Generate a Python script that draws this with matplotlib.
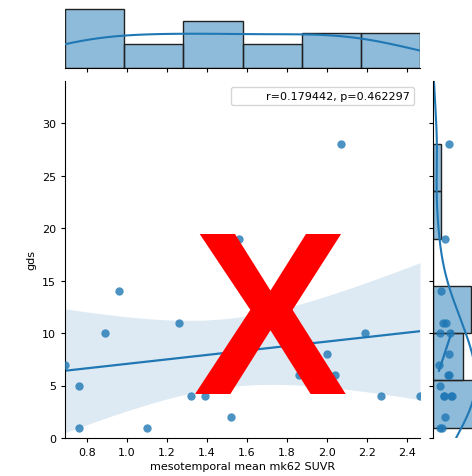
import numpy as np
import matplotlib
matplotlib.use("Agg")
import matplotlib.pyplot as plt
from matplotlib.lines import Line2D

# data
suvr = np.array([0.69, 0.76, 0.76, 0.89, 0.96, 1.10, 1.26, 1.32, 1.39, 1.52,
                 1.56, 1.70, 1.86, 2.00, 2.04, 2.07, 2.19, 2.27, 2.465])
gds = np.array([7, 5, 1, 10, 14, 1, 11, 4, 4, 2,
                19, 11, 6, 8, 6, 28, 10, 4, 4])
xticks = [0.8, 1.0, 1.2, 1.4, 1.6, 1.8, 2.0, 2.2, 2.4]
yticks = [0, 5, 10, 15, 20, 25, 30]
stat_text = "r=0.179442, p=0.462297"
xlabel = "mesotemporal mean mk62 SUVR"
ylabel = "gds"
n_bins = 6

c0 = "#1f77b4"
plt.rcParams["font.family"] = "DejaVu Sans"
plt.rcParams["font.size"] = 8

W, H = 472, 477
fig = plt.figure(figsize=(W / 100, H / 100), dpi=100)


def box(l, t, w, h):
    return [l / W, 1 - (t + h) / H, w / W, h / H]


ax = fig.add_axes(box(65, 82, 355, 357))
ax_top = fig.add_axes(box(65, -3, 355, 72))
ax_right = fig.add_axes(box(433, 82, 71, 357))


def kde(data, grid):
    bw = data.std(ddof=1) * len(data) ** (-1 / 5)
    z = (grid[:, None] - data[None, :]) / bw
    return np.exp(-0.5 * z ** 2).sum(axis=1) / (len(data) * bw * np.sqrt(2 * np.pi))


# regression + analytic 95% band
slope, icpt = np.polyfit(suvr, gds, 1)
xg = np.linspace(suvr.min(), suvr.max(), 100)
yhat = icpt + slope * xg
resid = gds - (icpt + slope * suvr)
s = np.sqrt((resid ** 2).sum() / (len(suvr) - 2))
sxx = ((suvr - suvr.mean()) ** 2).sum()
se = s * np.sqrt(1 / len(suvr) + (xg - suvr.mean()) ** 2 / sxx)
ci = 2.11 * se

ax.fill_between(xg, yhat - ci, yhat + ci, color=c0, alpha=0.15, lw=0)
ax.plot(xg, yhat, color=c0, lw=1.6)
ax.scatter(suvr, gds, s=36, color=c0, alpha=0.8, lw=0, zorder=3)
ax.set_xlim(suvr.min(), suvr.max())
ax.set_ylim(0, 34)
ax.set_xticks(xticks)
ax.set_yticks(yticks)
ax.set_xlabel(xlabel, labelpad=3)
ax.set_ylabel(ylabel)
ax.spines[["top", "right"]].set_visible(False)
ax.tick_params(length=3)
ax.legend([Line2D([], [], linewidth=0)], [stat_text], loc="upper right",
          handlelength=2, borderaxespad=0.5)

# top marginal
cnt, edges = np.histogram(suvr, bins=n_bins)
ax_top.bar(edges[:-1], cnt, width=np.diff(edges), align="edge",
           facecolor=(0.12, 0.47, 0.71, 0.5), edgecolor="#222222", lw=1)
kx = kde(suvr, xg) * len(suvr) * np.diff(edges)[0]
ax_top.plot(xg, kx, color=c0, lw=1.5)
ax_top.set_xlim(suvr.min(), suvr.max())
ax_top.set_ylim(0, 6.1)
ax_top.set_xticks(xticks)
ax_top.set_xticklabels([])
ax_top.set_yticks([])
ax_top.spines[["top", "right", "left"]].set_visible(False)
ax_top.tick_params(length=3)

# right marginal
cnt_y, edges_y = np.histogram(gds, bins=n_bins)
ax_right.barh(edges_y[:-1], cnt_y, height=np.diff(edges_y), align="edge",
              facecolor=(0.12, 0.47, 0.71, 0.5), edgecolor="#222222", lw=1)
yg = np.linspace(0, 34, 200)
ky = kde(gds.astype(float), yg) * len(gds) * np.diff(edges_y)[0]
ax_right.plot(ky, yg, color=c0, lw=1.5)
ax_right.set_ylim(0, 34)
ax_right.set_xlim(0, 9.4)
ax_right.set_yticks(yticks)
ax_right.set_yticklabels([])
ax_right.set_xticks([])
ax_right.spines[["top", "right", "bottom"]].set_visible(False)
ax_right.tick_params(length=3)

# squeezed copy of the scatter inside the right marginal
ax_rr = ax_right.twiny()
ax_rr.scatter(suvr, gds, s=36, color=c0, alpha=0.8, lw=0, zorder=3)
ax_rr.plot(xg, yhat, color=c0, lw=1.6)
ax_rr.set_xlim(-0.13, 9.58)
ax_rr.axis("off")

# red X over the plot
fig.text(270 / W, 1 - 394 / H, "X", color="red", fontsize=167,
         family="Liberation Sans", weight="bold", ha="center", va="baseline")

fig.savefig("out.png", dpi=100)
